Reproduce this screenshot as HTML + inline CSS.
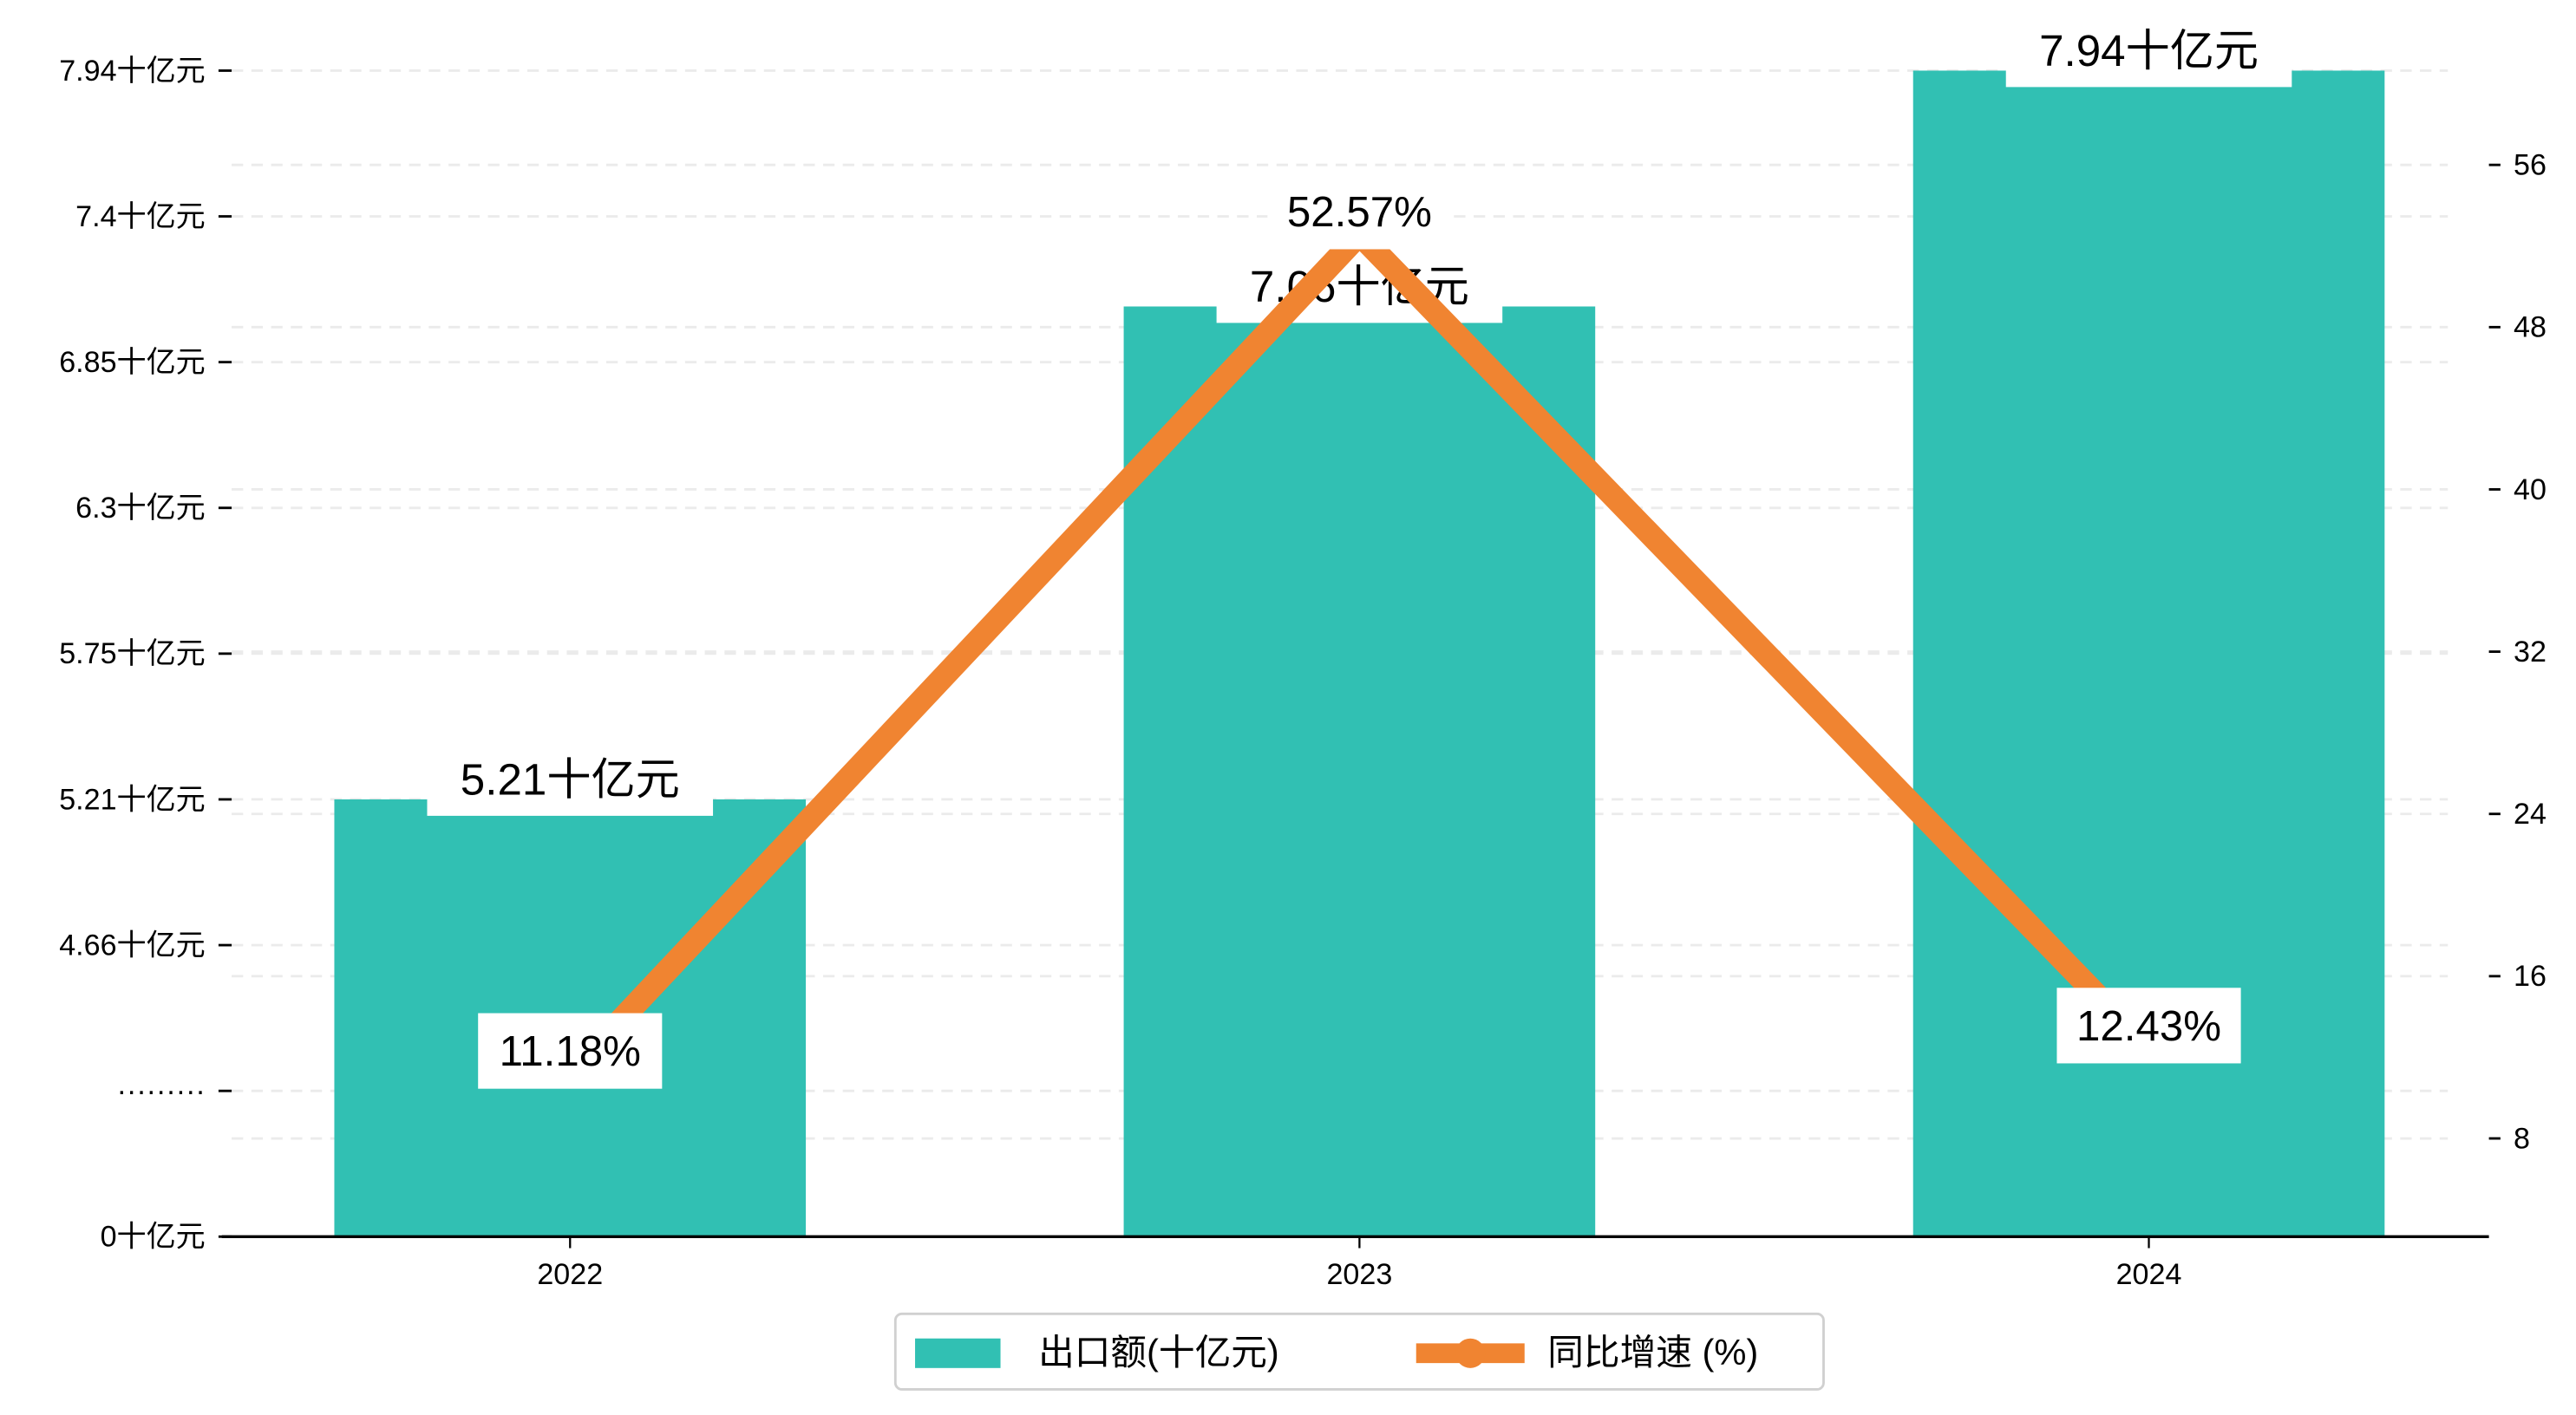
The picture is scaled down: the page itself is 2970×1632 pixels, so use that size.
<!DOCTYPE html>
<html><head><meta charset="utf-8">
<style>
html,body{margin:0;padding:0;background:#fff;}
svg{display:block;font-family:"Liberation Sans","Noto Sans CJK SC",sans-serif;}
</style></head>
<body>
<svg id="chart" width="2970" height="1632" viewBox="0 0 1568 861.6" xmlns="http://www.w3.org/2000/svg">
<g id="grid"></g>
<g id="bars"></g>
<g id="barLabels"></g>
<g id="line"></g>
<g id="pctLabels"></g>
<g id="axes"></g>
<g id="legend">
  <rect x="545" y="800" width="565" height="46" rx="4" fill="#fff" stroke="#d0d0d0" stroke-width="1.5"/>
  <rect x="557" y="815" width="52" height="18" fill="#31c0b3"/>
  <text x="632" y="831" font-size="22" fill="#000">出口额(十亿元)</text>
  <line x1="862" y1="824" x2="928" y2="824" stroke="#f08431" stroke-width="12"/>
  <circle cx="895" cy="824" r="9" fill="#f08431"/>
  <text x="942" y="831" font-size="22" fill="#000">同比增速 (%)</text>
</g>
</svg>
<script>
const categories = ["2022","2023","2024"];
const exportValues = [5.21, 7.06, 7.94];
const growthValues = [11.18, 52.57, 12.43];
const leftTickValues = [0, 4.11, 4.66, 5.21, 5.75, 6.3, 6.85, 7.4, 7.94];
const leftTickLabels = ["0十亿元","·········","4.66十亿元","5.21十亿元","5.75十亿元","6.3十亿元","6.85十亿元","7.4十亿元","7.94十亿元"];
const rightTickValues = [8, 16, 24, 32, 40, 48, 56];

const NS = "http://www.w3.org/2000/svg";
function el(tag, attrs, parent){ const e=document.createElementNS(NS,tag); for(const k in attrs) e.setAttribute(k,attrs[k]); parent.appendChild(e); return e; }

// left (broken) axis: piecewise linear between equally spaced ticks
const tickGap = 88.75, yBase = 753;
function yLeft(v){
  const t = leftTickValues;
  for(let i=0;i<t.length-1;i++){
    if(v<=t[i+1] || i===t.length-2){
      return yBase - (i + (v-t[i])/(t[i+1]-t[i]))*tickGap;
    }
  }
}
function yRight(v){ return 792 - v*12.35; }
function xCat(i){ return 347 + i*480.5; }
const barW = 287;

const grid=document.getElementById('grid'), bars=document.getElementById('bars'), bl=document.getElementById('barLabels'),
  line=document.getElementById('line'), pl=document.getElementById('pctLabels'), axes=document.getElementById('axes');

leftTickValues.forEach((v,i)=>{
  if(v>0){
    const g=el('line',{x1:141,x2:1490,y1:yLeft(v),y2:yLeft(v),stroke:'#ebebeb','stroke-width':1.5,'stroke-dasharray':'7,5'},grid);
    
    
  }
  const t=el('line',{x1:133,x2:141,y1:yLeft(v),y2:yLeft(v),stroke:'#000','stroke-width':1.5},axes);
  
  
  const tx=el('text',{x:125,y:yLeft(v)+6,'font-size':18,'text-anchor':'end',fill:'#000'},axes);
  tx.textContent=leftTickLabels[i];
  
  
});
rightTickValues.forEach(v=>{
  const g=el('line',{x1:141,x2:1490,y1:yRight(v),y2:yRight(v),stroke:'#ebebeb','stroke-width':1.5,'stroke-dasharray':'7,5'},grid);
  
  
  const t=el('line',{x1:1515,x2:1522,y1:yRight(v),y2:yRight(v),stroke:'#000','stroke-width':1.5},axes);
  
  
  const tx=el('text',{x:1530,y:yRight(v)+6,'font-size':18,fill:'#000'},axes);
  tx.textContent=String(v);
  
  
});

exportValues.forEach((v,i)=>{
  const x=xCat(i), top=yLeft(v);
  const r=el('rect',{x:x-barW/2,y:top,width:barW,height:753-top,fill:'#31c0b3'},bars);
  
  
  const b=el('rect',{x:x-87,y:top-28,width:174,height:38,fill:'#fff'},bl);
  
  
  const t=el('text',{x:x,y:top-3,'font-size':27,'text-anchor':'middle',fill:'#000'},bl);
  t.textContent=v.toFixed(2)+'十亿元';
  
  
});

const pts=growthValues.map((v,i)=>xCat(i)+','+yRight(v)).join(' ');
const pl1=el('polyline',{points:pts,fill:'none',stroke:'#f08431','stroke-width':14,'stroke-linejoin':'miter'},line);


growthValues.forEach((v,i)=>{
  const c=el('circle',{cx:xCat(i),cy:yRight(v),r:9,fill:'#f08431'},line);
  
  
  const cy=yRight(v)-14;
  const b=el('rect',{x:xCat(i)-56,y:cy-23,width:112,height:46,fill:'#fff'},pl);
  
  
  const t=el('text',{x:xCat(i),y:cy+9,'font-size':26,'text-anchor':'middle',fill:'#000'},pl);
  t.textContent=v.toFixed(2)+'%';
  
  
});

const xa=el('line',{x1:135,x2:1515,y1:753,y2:753,stroke:'#000','stroke-width':1.8},axes);


categories.forEach((c,i)=>{
  const t=el('line',{x1:xCat(i),x2:xCat(i),y1:753,y2:760,stroke:'#000','stroke-width':1.2},axes);
  
  
  const tx=el('text',{x:xCat(i),y:782,'font-size':18,'text-anchor':'middle',fill:'#000'},axes);
  tx.textContent=c;
  
  
});
</script>
</body></html>
